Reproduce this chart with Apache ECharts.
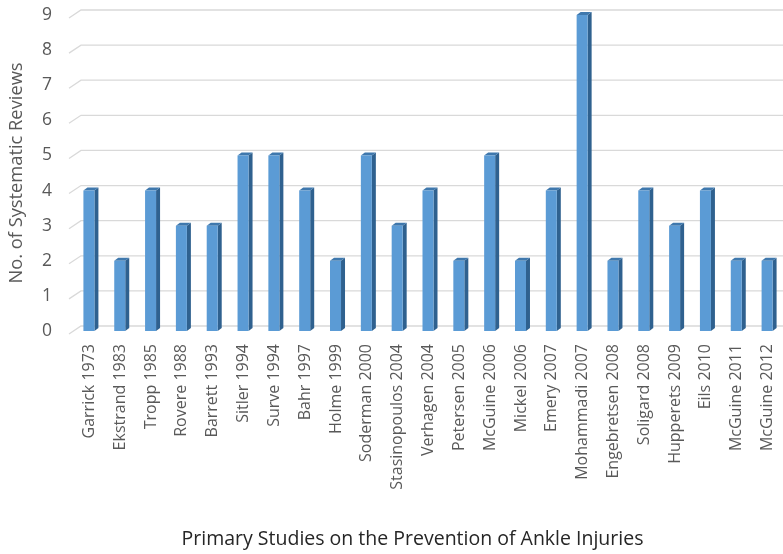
<!DOCTYPE html>
<html><head><meta charset="utf-8">
<script src="https://cdn.jsdelivr.net/npm/echarts@6/dist/echarts.min.js"></script>
<style>html,body{margin:0;padding:0;background:#fff;overflow:hidden;}#c{width:783px;height:554px;}</style>
</head><body><div id="c"></div>
<script>
var categories = ["Garrick 1973","Ekstrand 1983","Tropp 1985","Rovere 1988","Barrett 1993","Sitler 1994","Surve 1994","Bahr 1997","Holme 1999","Soderman 2000","Stasinopoulos 2004","Verhagen 2004","Petersen 2005","McGuine 2006","Mickel 2006","Emery 2007","Mohammadi 2007","Engebretsen 2008","Soligard 2008","Hupperets 2009","Eils 2010","McGuine 2011","McGuine 2012"];
var reviews = [4,2,4,3,3,5,5,4,2,5,3,4,2,5,2,4,9,2,4,3,4,2,2];
var yTicks = [0,1,2,3,4,5,6,7,8,9];

var FONT = '"Open Sans"';
var chart = echarts.init(document.getElementById('c'));

function gridItem(params, api) {
  var cs = params.coordSys;
  var v = api.value(0);
  var y = api.coord([0, v])[1] - 5;
  return {
    type: 'polyline',
    shape: { points: [[cs.x - 5, y + 8], [cs.x + 7, y], [cs.x + cs.width + 10, y]] },
    style: { stroke: '#d9d9d9', lineWidth: 1.3, fill: null },
    silent: true
  };
}

function barItem(params, api) {
  var c = api.coord([api.value(0), api.value(1)]);
  var b = api.coord([api.value(0), 0]);
  var cx = c[0], top = c[1], bot = b[1];
  var l = cx - 6, r = cx + 5, d = 4, h = 3;
  return {
    type: 'group',
    children: [
      { type: 'polygon', shape: { points: [[r, top], [r + d, top - h], [r + d, bot - h], [r, bot]] }, style: { fill: '#2f618f' } },
      { type: 'polygon', shape: { points: [[l, top], [l + d, top - h], [r + d, top - h], [r, top]] }, style: { fill: '#3f78ad' } },
      { type: 'rect', shape: { x: l, y: top, width: r - l, height: bot - top }, style: { fill: '#5b9bd5' } }
    ]
  };
}

chart.setOption({
  animation: false,
  backgroundColor: '#ffffff',
  textStyle: { fontFamily: FONT },
  grid: { left: 72, width: 715, top: 15, height: 325, containLabel: false },
  xAxis: {
    type: 'category',
    data: categories,
    axisLine: { show: false },
    axisTick: { show: false },
    axisLabel: { rotate: 90, interval: 0, margin: 13, fontSize: 16, color: '#595959', fontFamily: FONT },
    name: 'Primary Studies on the Prevention of Ankle Injuries',
    nameLocation: 'middle',
    nameGap: 198,
    nameTextStyle: { fontSize: 19.5, color: '#262626', fontFamily: FONT, padding: [0, 32, 0, 0] }
  },
  yAxis: {
    type: 'value',
    min: 0, max: 9, interval: 1,
    axisLine: { show: false },
    axisTick: { show: false },
    splitLine: { show: false },
    axisLabel: { margin: 22, fontSize: 17.5, color: '#595959', fontFamily: FONT, padding: [4, 0, 0, 0] },
    name: 'No. of Systematic Reviews',
    nameLocation: 'middle',
    nameGap: 48,
    nameTextStyle: { fontSize: 18.3, color: '#595959', fontFamily: FONT }
  },
  series: [
    {
      type: 'custom',
      data: yTicks.map(function (t) { return [t]; }),
      encode: { y: 0 },
      renderItem: gridItem,
      z: 1,
      silent: true,
      clip: false
    },
    {
      type: 'custom',
      data: categories.map(function (c, i) { return [i, reviews[i]]; }),
      encode: { x: 0, y: 1 },
      renderItem: barItem,
      z: 2,
      clip: false
    }
  ]
});
</script></body></html>
